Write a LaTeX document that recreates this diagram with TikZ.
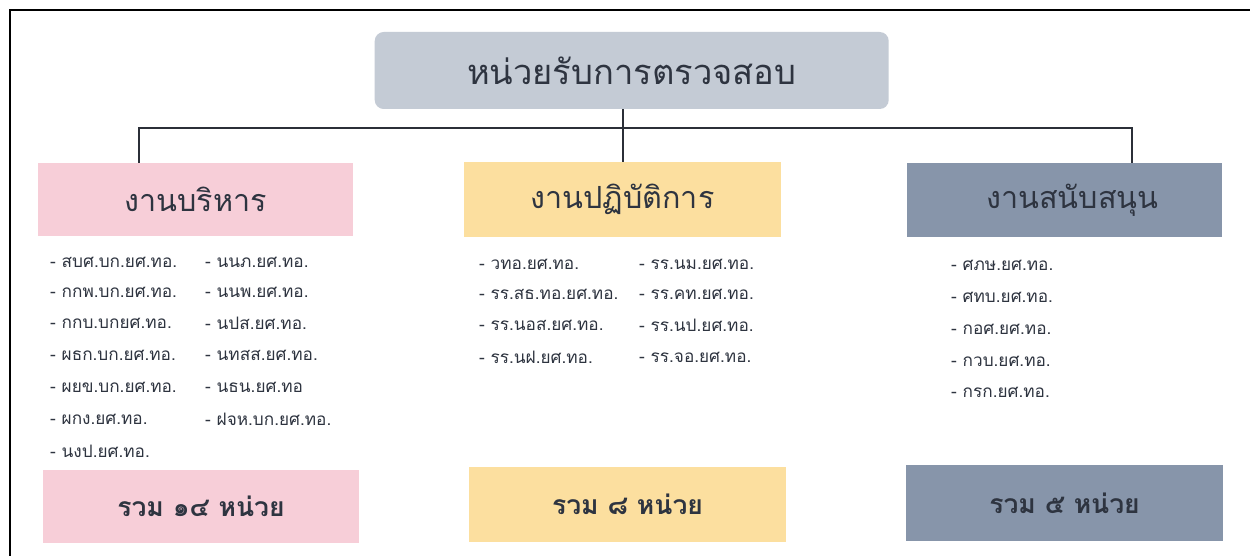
\documentclass[tikz,border=0pt]{standalone}
\usepackage{fontspec}
\newfontfamily\thaifont[Script=Thai]{Loma}
\definecolor{topc}{HTML}{C4CBD5}
\definecolor{pinkc}{HTML}{F7CED8}
\definecolor{yelc}{HTML}{FCDF9F}
\definecolor{slatec}{HTML}{8795AA}
\definecolor{txtc}{HTML}{2E3440}
\definecolor{linec}{HTML}{2B2F38}
\tikzset{
  box/.style={rectangle, inner sep=0pt, text=txtc, font=\thaifont\fontsize{30.5}{34}\selectfont},
  sumbox/.style={rectangle, inner sep=0pt, text=txtc, font=\thaifont\bfseries\fontsize{26.5}{30}\selectfont},
  item/.style={anchor=west, inner sep=0pt, text=txtc, font=\thaifont\fontsize{17.2}{20}\selectfont},
  conn/.style={draw=linec, line width=2pt}
}
\begin{document}
\begin{tikzpicture}[x=1pt,y=-1pt]
\useasboundingbox (0,0) rectangle (1250,556);
\fill[white] (0,0) rectangle (1250,556);
\draw[line width=2.2pt, black] (10,556) -- (10,10) -- (1250,10);

\node[box, fill=topc, rounded corners=9pt, minimum width=514pt, minimum height=77pt, font=\thaifont\fontsize{34.5}{40}\selectfont] (top) at (631.7,70.5) {หน่วยรับการตรวจสอบ};

\node[box, fill=pinkc, minimum width=315pt, minimum height=73pt] (adm) at (195.5,199.5) {งานบริหาร};
\node[box, fill=yelc, minimum width=317pt, minimum height=75pt] (ops) at (622.5,199.5) {งานปฏิบัติการ};
\node[box, fill=slatec, minimum width=315pt, minimum height=74pt] (sup) at (1064.5,200) {\hspace*{16pt}งานสนับสนุน};

\coordinate (bar) at (623,128);
\coordinate (jl) at (139,163);
\coordinate (jr) at (1132,163);
\draw[conn] (top.south -| bar) -- (ops.north -| bar);
\draw[conn] (jl) -- (jl |- bar) -- (jr |- bar) -- (jr);

% left list
\node[item] (a1) at (50,262) {- สบศ.บก.ยศ.ทอ.};
\node[item] (a2) at (50,292) {- กกพ.บก.ยศ.ทอ.};
\node[item] (a3) at (50,323) {- กกบ.บกยศ.ทอ.};
\node[item] (a4) at (50,355) {- ผธก.บก.ยศ.ทอ.};
\node[item] (a5) at (50,387) {- ผยข.บก.ยศ.ทอ.};
\node[item] (a6) at (50,419) {- ผกง.ยศ.ทอ.};
\node[item] (a7) at (50,451) {- นงป.ยศ.ทอ.};
\node[item] (b1) at (205,262) {- นนภ.ยศ.ทอ.};
\node[item] (b2) at (205,292) {- นนพ.ยศ.ทอ.};
\node[item] (b3) at (205,323) {- นปส.ยศ.ทอ.};
\node[item] (b4) at (205,355) {- นทสส.ยศ.ทอ.};
\node[item] (b5) at (205,387) {- นธน.ยศ.ทอ};
\node[item] (b6) at (205,419) {- ฝจห.บก.ยศ.ทอ.};

% middle list
\node[item] (c1) at (479,264) {- วทอ.ยศ.ทอ.};
\node[item] (c2) at (479,294) {- รร.สธ.ทอ.ยศ.ทอ.};
\node[item] (c3) at (479,325) {- รร.นอส.ยศ.ทอ.};
\node[item] (c4) at (479,357) {- รร.นฝ.ยศ.ทอ.};
\node[item] (d1) at (639,264) {- รร.นม.ยศ.ทอ.};
\node[item] (d2) at (639,294) {- รร.คท.ยศ.ทอ.};
\node[item] (d3) at (639,325) {- รร.นป.ยศ.ทอ.};
\node[item] (d4) at (639,357) {- รร.จอ.ยศ.ทอ.};

% right list
\node[item] (e1) at (951,265) {- ศภษ.ยศ.ทอ.};
\node[item] (e2) at (951,297) {- ศทบ.ยศ.ทอ.};
\node[item] (e3) at (951,329) {- กอศ.ยศ.ทอ.};
\node[item] (e4) at (951,361) {- กวบ.ยศ.ทอ.};
\node[item] (e5) at (951,392) {- กรก.ยศ.ทอ.};

\node[sumbox, fill=pinkc, minimum width=316pt, minimum height=73pt] (s1) at (201,506.5) {รวม ๑๔ หน่วย};
\node[sumbox, fill=yelc, minimum width=317pt, minimum height=75pt] (s2) at (627.5,504.5) {รวม ๘ หน่วย};
\node[sumbox, fill=slatec, minimum width=317pt, minimum height=76pt] (s3) at (1064.5,503) {รวม ๕ หน่วย};
\end{tikzpicture}
\end{document}
